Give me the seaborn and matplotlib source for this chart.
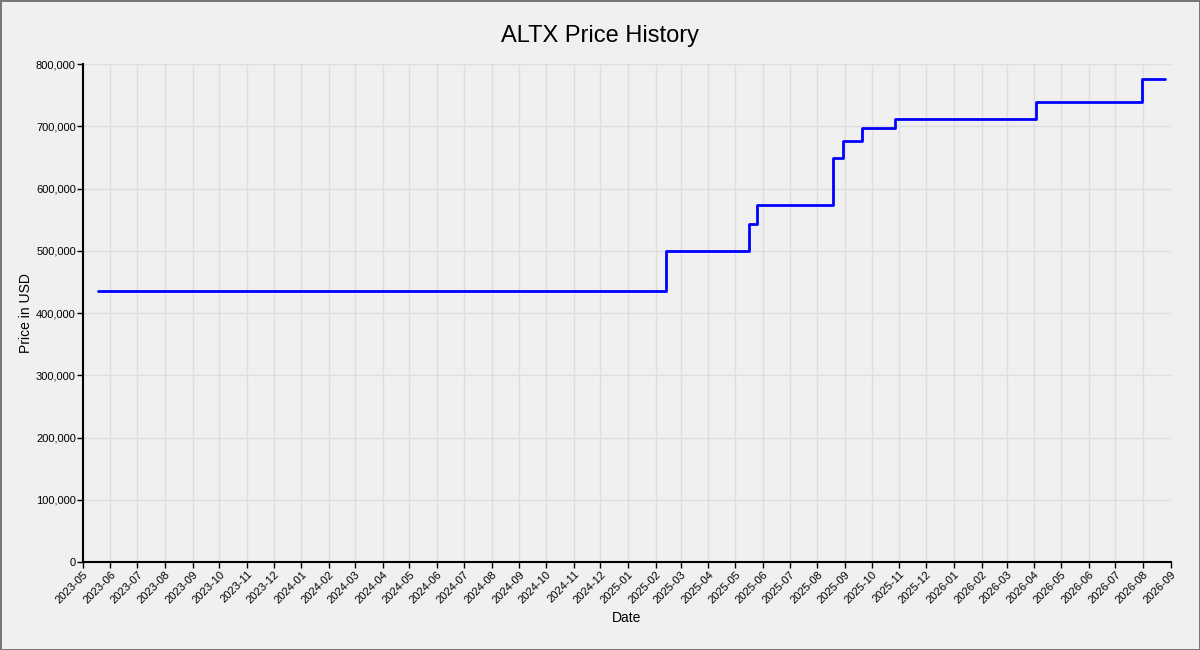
import matplotlib
matplotlib.use('Agg')
import pandas as pd
import matplotlib.pyplot as plt
import matplotlib.dates as mdates
import matplotlib.ticker as mticker
import seaborn as sns

# price change points (last row is the end of the series)
dates = ["2023-05-18", "2025-02-12", "2025-05-16", "2025-05-25", "2025-08-19",
         "2025-08-30", "2025-09-20", "2025-10-27", "2026-04-03", "2026-07-31",
         "2026-08-26"]
prices = [435000, 500000, 543000, 574000, 649000,
          677000, 698000, 712000, 739000, 776000,
          776000]

df = pd.DataFrame({"Date": pd.to_datetime(dates), "Price": prices})

sns.set_theme(style="whitegrid")
plt.rcParams['font.family'] = ['Liberation Sans', 'DejaVu Sans']
plt.rcParams['text.color'] = 'black'
plt.rcParams['axes.labelcolor'] = 'black'

fig = plt.figure(figsize=(12, 6.5), dpi=100)
fig.patch.set_facecolor('#f0f0f0')
fig.patch.set_edgecolor('#777777')
fig.patch.set_linewidth(2)
ax = fig.add_axes([0.069, 0.135, 0.9066, 0.7665])
ax.set_facecolor('#f0f0f0')

sns.lineplot(data=df, x="Date", y="Price", ax=ax, color='blue',
             linewidth=2, drawstyle='steps-post')

ax.set_xlim(pd.Timestamp("2023-05-01"), pd.Timestamp("2026-09-01"))
ax.set_ylim(0, 800000)
ax.xaxis.set_major_locator(mdates.MonthLocator())
ax.xaxis.set_major_formatter(mdates.DateFormatter('%Y-%m'))
ax.yaxis.set_major_locator(mticker.MultipleLocator(100000))
ax.yaxis.set_major_formatter(mticker.FuncFormatter(lambda v, p: f"{int(v):,}"))

ax.grid(True, color='#dedede', linewidth=1)
for s in ['top', 'right']:
    ax.spines[s].set_visible(False)
for s in ['left', 'bottom']:
    ax.spines[s].set_color('black')
    ax.spines[s].set_linewidth(1.5)

ax.tick_params(axis='both', which='major', length=4, width=1, color='black',
               labelsize=8, labelcolor='black', pad=1, bottom=True, left=True)
plt.setp(ax.get_xticklabels(), rotation=45, ha='right', rotation_mode='anchor')

ax.set_xlabel("Date", fontsize=10, color='black', labelpad=4)
ax.set_ylabel("Price in USD", fontsize=10, color='black', labelpad=2)
fig.suptitle("ALTX Price History", fontsize=17, color='black', y=0.962)

fig.savefig("out.png", dpi=100, facecolor=fig.get_facecolor(),
            edgecolor=fig.get_edgecolor())
